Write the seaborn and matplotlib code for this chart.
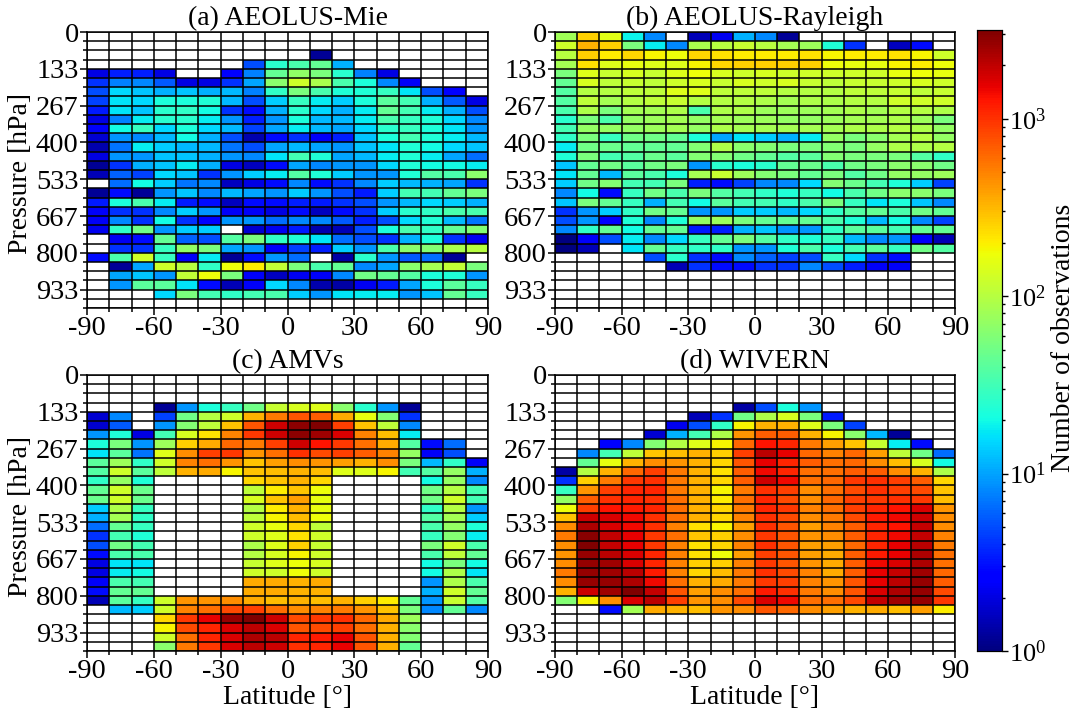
import numpy as np
import matplotlib
matplotlib.use("Agg")
import matplotlib.pyplot as plt
from matplotlib.colors import LogNorm
from matplotlib.ticker import LogLocator, NullFormatter
import seaborn as sns

# Rows run from the top pressure bin (0-33 hPa) down to 967-1000 hPa; columns -90..90 by 10 deg. 0 = no observations.
E = [0] * 18
aeolus_mie = [
 E, E,
 [0,0,0,0,0,0,0,0,0,0,1.2,0,0,0,0,0,0,0],
 [0,0,0,0,0,0,0,5,25,35,45,11,0,0,0,0,0,0],
 [2,3.5,3.5,2,0,0,2.6,7.5,45,70,56,25,7.5,2,0,0,0,0],
 [4,7.5,8,5.5,2,2,4,10,65,126,90,35,22,8,2.4,0,0,0],
 [5,15,13,11,13,11,12,7.5,27,56,35,23,23,29,17,5,2.6,0],
 [4.6,17,15,22,22,23,12,5,14,29,18,14,22,41,32,11,5.5,2],
 [3.4,17,13,25,27,20,4,3,11,25,15,11,18,45,32,18,11,5],
 [2,7.5,18,25,25,18,9,3.5,9,22,12,12,18,35,29,23,15,8],
 [2.4,20,29,15,22,15,12,4.6,10,18,12,10,15,25,29,22,17,9],
 [1.8,9,8,12,20,11,5,1.4,3,4,2.4,3.5,13,22,32,23,18,12],
 [1.4,7,18,14,12,12,7,5,10,12,10,9,13,17,23,20,15,13],
 [2,9,9,13,13,11,9,8,17,32,23,10,12,18,23,18,10,6.5],
 [1.2,4,11,13,18,11,2,1.6,3,10,8,9,9,15,23,20,20,18],
 [1.5,6,4.6,15,13,4,9,14,18,38,23,14,9,9,23,38,35,65],
 [0,6.5,20,14,7,8,1.6,2,3,8,3,4,8,14,12,11,10,4],
 [1.2,3,1.2,9,13,8,12,10,9,14,9,5,3.4,14,32,32,45,56],
 [3.4,22,35,18,3.4,3,1.6,3,3,3.5,3.4,4,5,9,12,15,14,11],
 [2.4,4,4,8,14,9,2.4,2.4,2,3,1.6,3,4,14,25,27,35,35],
 [2.4,8,4,20,4,2.6,9,9,6.5,8,8,5.5,3.5,5,15,23,12,7],
 [2.2,27,50,9,14,14,0,1.8,2.2,3.4,1.4,1.5,5,22,35,27,45,60],
 [0,2.2,3,45,6,5,38,56,27,23,17,6.5,5,4,11,22,4,2.2],
 [0,4,4,29,70,56,10,9,2.4,4.6,3.5,14,9,35,65,60,90,100],
 [3,35,126,29,2.4,18,1.2,3,9,6.5,0,1.3,25,9,5.5,6.5,1.2,0],
 [0,1.2,10,126,100,27,170,200,110,56,35,45,8,10,65,84,110,56],
 [0,10,13,9,110,170,56,2.4,1.6,2.2,2.4,8,50,45,38,22,23,9],
 [0,9,41,41,17,3,1.5,2.4,15,8,1.4,1.3,2.2,3.4,10,22,41,29],
 [0,0,0,15,56,32,27,32,35,14,9,17,18,18,9,13,45,29],
 E,
]
aeolus_rayleigh = [
 [80,260,150,19,8,0,1.5,2.2,11,8,1.2,0,0,0,0,0,0,0],
 [126,330,260,56,18,8,90,100,116,100,84,78,23,4,0,1.6,3,0],
 [100,260,204,240,188,174,240,221,204,204,204,221,188,204,204,221,188,126],
 [84,221,148,161,148,148,188,240,260,260,260,260,174,161,161,188,204,174],
 [56,148,116,137,116,148,174,137,126,137,126,126,126,126,126,161,174,161],
 [45,137,107,116,107,126,137,116,137,126,137,116,107,116,116,126,137,126],
 [38,98,98,107,107,148,148,107,107,107,98,98,98,107,107,116,107,116],
 [38,107,84,98,107,116,98,98,98,91,84,91,91,98,98,126,126,126],
 [35,91,56,84,84,91,35,91,91,78,78,78,84,91,84,98,98,91],
 [25,56,35,71,78,84,71,84,78,78,71,71,78,84,84,91,78,56],
 [32,71,71,71,78,84,71,91,84,84,84,84,84,91,91,98,91,71],
 [27,56,29,50,50,45,22,10,17,14,11,18,71,56,65,84,98,71],
 [18,50,48,45,45,45,60,91,65,60,56,56,60,56,71,91,91,98],
 [23,56,32,38,48,41,60,60,50,45,38,41,60,56,56,56,38,27],
 [13,45,50,41,50,56,9,25,22,25,45,48,35,50,56,65,65,50],
 [17,45,12,41,35,22,84,116,78,60,56,45,56,38,50,71,71,78],
 [14,50,60,32,32,56,3.5,3,4.6,8,8,15,60,48,32,23,14,4.6],
 [8,20,3,29,50,35,56,38,32,27,23,29,20,35,50,65,65,56],
 [13,56,45,29,11,32,20,41,32,32,27,35,56,29,17,22,13,8],
 [4,9,14,27,50,45,9,9,14,14,12,15,27,38,45,35,50,45],
 [5,9,2.6,23,8,23,71,78,56,45,45,45,35,23,12,20,8,4.6],
 [8,27,45,20,45,45,3.4,3.5,11,13,9,9,27,41,41,32,45,45],
 [1,2.4,5,18,8,15,29,45,56,38,27,23,29,12,8,9,2.4,1.5],
 [1,1.5,0,17,45,29,27,27,9,9,23,35,22,32,41,29,50,38],
 [0,0,0,0,5,25,4,3,8,6,4.6,5,29,15,4,3,0,0],
 [0,0,0,0,0,1.5,4,3,3,4,4,8,5,3.5,2.4,2.4,0,0],
 E, E, E, E,
]
amvs = [
 E, E, E,
 [0,0,0,1.2,9,22,29,50,116,137,148,65,25,9,1.2,0,0,0],
 [1.8,8,0,4.6,50,98,126,331,537,741,680,360,161,60,4,0,0,0],
 [1.8,5.5,0,9,60,107,282,741,1800,2800,3100,875,282,107,8,0,0,0],
 [9,23,2,32,137,221,500,944,1800,2800,2500,1670,500,300,18,0,0,0],
 [22,56,9,78,260,360,631,537,875,1800,1300,944,580,360,38,3,6.5,0],
 [17,41,7,148,460,875,944,422,580,1000,800,875,680,500,71,2.4,5,0],
 [41,78,27,126,500,580,422,282,390,460,422,390,331,460,56,12,27,2.4],
 [38,126,41,107,331,360,188,282,300,331,300,148,148,188,32,38,71,11],
 [27,71,23,0,0,0,0,240,282,331,240,0,0,0,0,20,71,8],
 [45,126,48,0,0,0,0,107,204,282,174,0,0,0,0,50,98,32],
 [48,126,48,0,0,0,0,137,282,390,161,0,0,0,0,50,126,32],
 [14,91,29,0,0,0,0,98,204,331,161,0,0,0,0,27,98,9],
 [11,84,27,0,0,0,0,107,188,300,174,0,0,0,0,38,84,14],
 [6.5,45,29,0,0,0,0,126,161,240,107,0,0,0,0,35,71,23],
 [4,32,23,0,0,0,0,126,148,221,126,0,0,0,0,29,60,18],
 [5,50,32,0,0,0,0,91,148,260,116,0,0,0,0,56,126,35],
 [3,35,35,0,0,0,0,98,137,188,126,0,0,0,0,35,107,45],
 [2,17,17,0,0,0,0,116,148,174,137,0,0,0,0,20,56,20],
 [2,18,20,0,0,0,0,126,126,174,126,0,0,0,0,20,91,17],
 [2.4,35,32,0,0,0,0,360,360,331,360,0,0,0,0,9,91,35],
 [3,45,45,0,0,0,0,360,360,331,331,0,0,0,0,11,126,45],
 [1.5,41,29,126,422,422,460,360,300,331,300,331,260,204,45,9,116,38],
 [0,12,14,126,500,580,800,875,580,460,500,537,422,282,56,8,45,8],
 [0,0,0,240,944,1530,2700,3100,1800,800,944,1000,631,360,78,0,0,0],
 [0,0,0,188,800,1090,1670,2100,1670,741,800,875,580,331,65,0,0,0],
 [0,0,0,126,580,1090,1670,2300,2100,1090,1200,1530,741,331,60,0,0,0],
 [0,0,0,65,537,944,1670,2100,1800,1000,1090,1530,741,331,45,0,0,0],
]
wivern = [
 E, E, E,
 [0,0,0,0,0,0,0,0,1.3,5,22,9,0,0,0,0,0,0],
 [0,0,0,0,0,0,1.5,4,50,91,137,56,3.4,0,0,0,0,0],
 [0,0,0,0,0,2.2,5,27,188,331,331,148,56,4.6,0,0,0,0],
 [0,0,0,0,1.8,11,32,91,422,680,680,331,188,65,12,1.2,0,0],
 [0,0,2.6,8,60,98,148,188,631,1300,1090,537,390,282,116,18,3,0],
 [0,8,32,107,282,300,331,260,875,2100,1530,631,500,631,390,107,50,6.5],
 [0,45,161,331,460,422,331,240,741,1530,1090,680,580,631,460,300,137,20],
 [1.3,98,331,631,875,537,331,221,680,1410,1090,580,580,680,680,460,331,91],
 [4,260,537,944,1000,537,331,240,680,1800,1410,580,631,944,1000,875,680,240],
 [29,422,875,1090,1090,537,331,188,537,1000,875,460,580,800,1000,875,800,282],
 [71,680,1000,1090,1000,580,331,204,580,1090,800,460,631,875,944,1000,944,300],
 [174,875,1300,1200,1090,580,331,240,537,1090,944,500,580,875,1090,1300,1670,422],
 [282,1800,1670,1410,1000,580,331,240,500,1000,800,460,537,800,1200,1410,1800,460],
 [460,2300,1670,1410,1000,500,221,188,390,1000,741,390,500,680,1090,1300,1950,460],
 [537,2900,1950,1530,944,580,282,260,460,944,741,422,460,680,1090,1410,1950,500],
 [460,3100,1950,1530,944,500,221,240,500,1000,741,390,390,631,1090,1530,2100,537],
 [422,2700,2100,1670,1090,500,221,174,390,875,741,390,360,680,1200,1530,2300,580],
 [460,2700,2500,1670,1090,500,260,260,500,944,741,422,360,680,1410,1670,2300,580],
 [537,2700,2500,2100,1200,500,240,300,537,1000,800,500,360,680,1530,1950,2500,631],
 [460,2700,2700,2300,1410,580,331,360,537,944,875,500,422,741,1530,2100,2700,680],
 [331,1800,2500,3100,1950,741,390,460,580,1200,1000,537,460,741,1670,2300,2700,800],
 [60,188,460,1670,2100,875,422,460,800,1670,1410,580,580,800,1950,2500,2700,944],
 [0,0,3,84,360,331,300,422,460,741,631,460,390,331,360,300,390,204],
 E, E, E, E,
]
panel_titles = ["(a) AEOLUS-Mie", "(b) AEOLUS-Rayleigh", "(c) AMVs", "(d) WIVERN"]
lat_labels = ["-90", "-60", "-30", "0", "30", "60", "90"]
p_labels = ["0", "133", "267", "400", "533", "667", "800", "933"]
panels = [aeolus_mie, aeolus_rayleigh, amvs, wivern]

sns.set_theme(style="white")
plt.rcParams["font.family"] = ["Liberation Serif", "DejaVu Serif"]
plt.rcParams["mathtext.fontset"] = "stix"
FS = 20
TICK_FS = 20.5
W, H = 1080, 712
fig = plt.figure(figsize=(W / 100, H / 100), dpi=100, facecolor="white")

def px(x0, y0, x1, y1):
    return [x0 / W, 1 - y1 / H, (x1 - x0) / W, (y1 - y0) / H]

boxes = [px(87, 32, 488, 308), px(555, 32, 955, 308), px(87, 375, 488, 651), px(555, 375, 955, 651)]
norm = LogNorm(vmin=1, vmax=3162)
cax = fig.add_axes(px(977, 30, 1002, 651))

for i, (data, box) in enumerate(zip(panels, boxes)):
    arr = np.array(data, dtype=float)
    ax = fig.add_axes(box)
    sns.heatmap(arr, mask=arr == 0, cmap="jet", norm=norm, ax=ax,
                xticklabels=False, yticklabels=False,
                cbar=i == 0, cbar_ax=cax if i == 0 else None)
    ax.set_xticks(np.arange(0, 19, 3), lat_labels)
    ax.set_xticks(np.arange(0, 19), minor=True)
    ax.set_yticks(np.arange(0, 29, 4), p_labels)
    ax.set_yticks(np.arange(0, 31), minor=True)
    ax.tick_params(which="major", direction="out", length=5, width=1.1, color="black",
                   labelsize=TICK_FS, labelcolor="black", pad=1, bottom=True, left=True, labelrotation=0)
    ax.tick_params(which="minor", direction="out", length=3, width=1.1, color="black",
                   bottom=True, left=True)
    ax.grid(which="both", color="black", linewidth=1.1)
    ax.set_axisbelow(False)
    for s in ax.spines.values():
        s.set_visible(True)
        s.set_color("black")
        s.set_linewidth(1.1)
    ax.set_title(panel_titles[i], fontsize=FS, color="black", pad=5)
    if i in (0, 2):
        ax.set_ylabel("Pressure [hPa]", fontsize=FS, color="black")
        ax.yaxis.set_label_coords(-0.135, 0.487)
    if i >= 2:
        ax.set_xlabel("Latitude [°]", fontsize=FS, color="black")
        ax.xaxis.set_label_coords(0.5, -0.125)

cax.yaxis.set_major_locator(LogLocator(base=10, numticks=6))
cax.yaxis.set_minor_locator(LogLocator(base=10, subs=np.arange(2, 10), numticks=12))
cax.yaxis.set_minor_formatter(NullFormatter())
cax.tick_params(which="major", direction="out", length=4, width=1, color="black", right=True,
                labelsize=19, labelcolor="black", pad=1)
cax.tick_params(which="minor", direction="out", length=2.5, width=1, color="black", right=True)
for s in cax.spines.values():
    s.set_visible(True)
    s.set_color("black")
    s.set_linewidth(0.8)
cax.set_ylabel("Number of observations", fontsize=FS, color="black")
cax.yaxis.set_label_coords(2.95, 0.504)

fig.savefig("out.png", dpi=100, facecolor="white")
